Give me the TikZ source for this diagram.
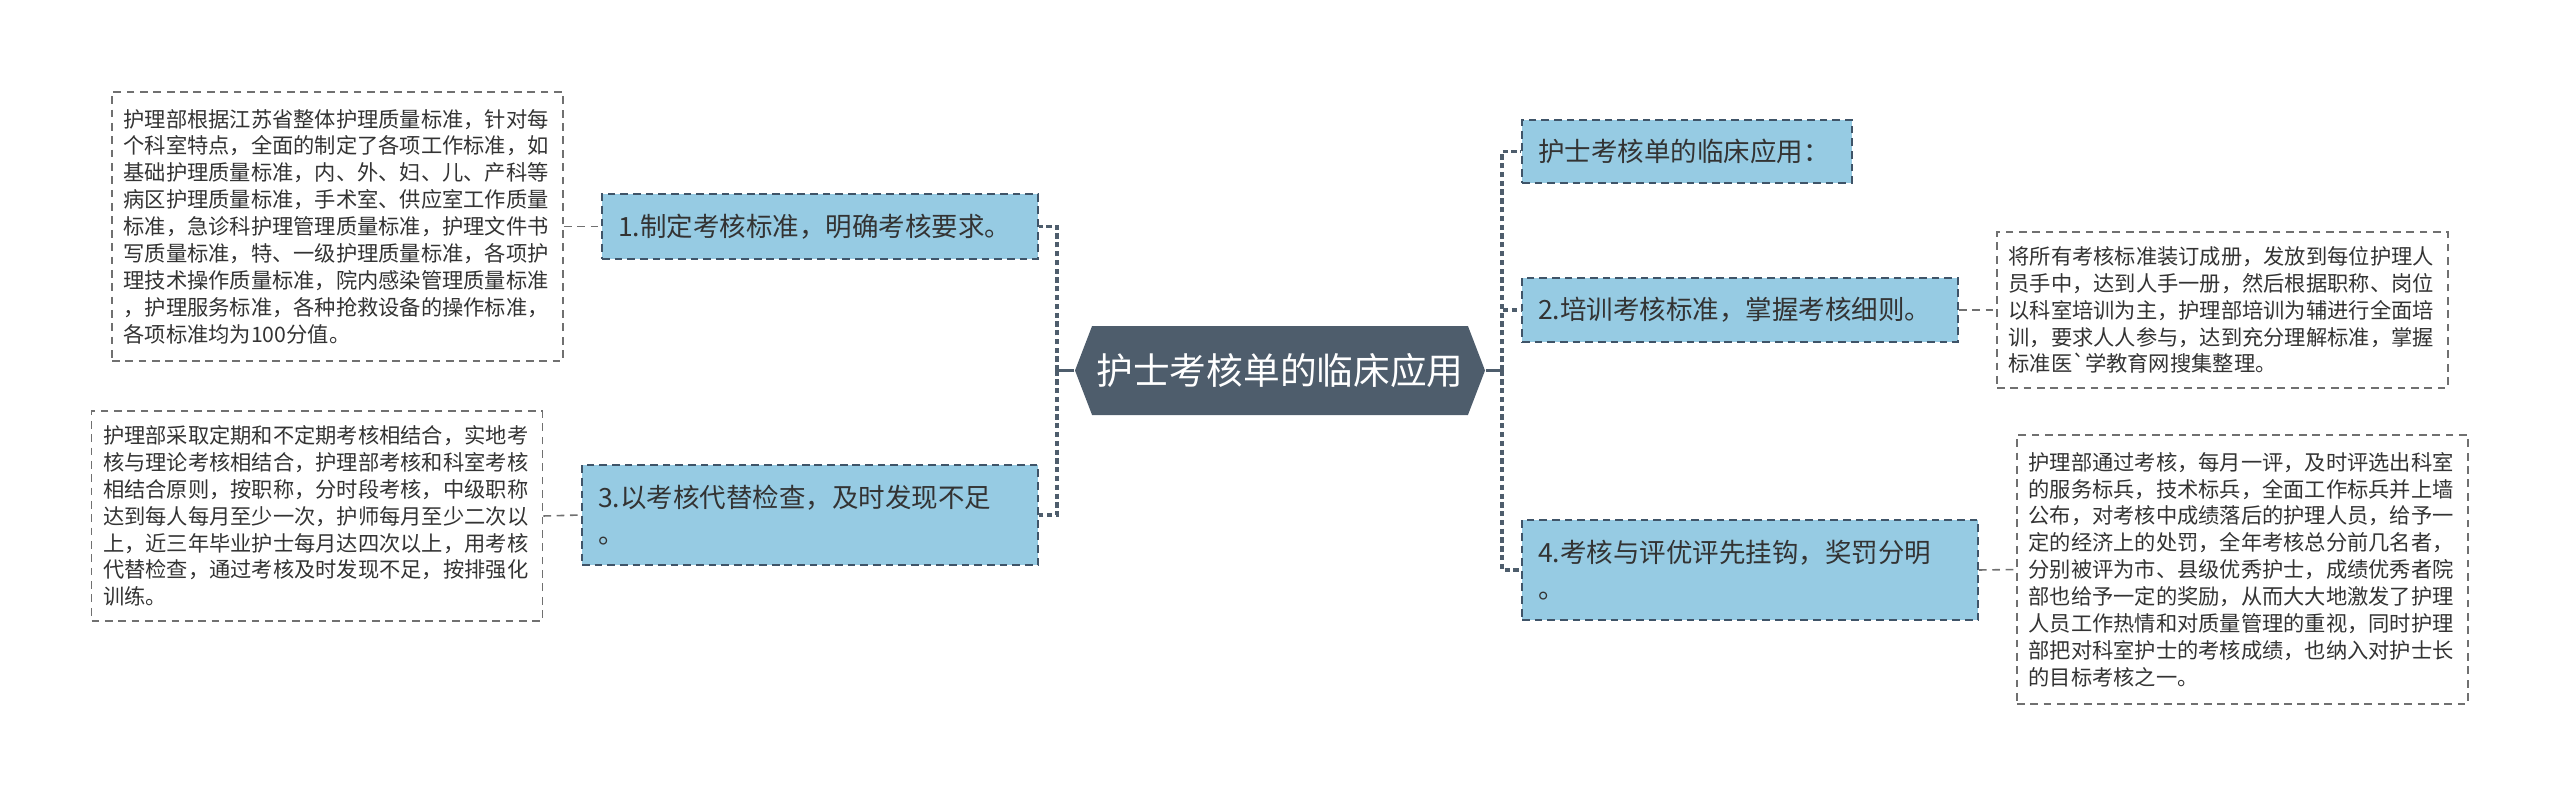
\documentclass[tikz,border=0pt]{standalone}
\usepackage{fontspec}
\newfontfamily\cjk{Noto Sans CJK SC}
\usetikzlibrary{shapes.symbols,positioning}
\definecolor{hubfill}{HTML}{4E5D6C}
\definecolor{leaffill}{HTML}{96CBE3}
\definecolor{leafline}{HTML}{3F5468}
\definecolor{notegray}{HTML}{707070}
\definecolor{inkgray}{HTML}{333333}

\begin{document}
\begin{tikzpicture}[
    hub/.style={
        signal,
        signal to=west and east,
        signal pointer angle=138,
        fill=hubfill,
        text=white,
        font=\cjk\fontsize{10.44pt}{12pt}\selectfont,
        minimum width=4.10cm,
        minimum height=0.89cm,
        inner sep=0pt,
    },
    branch/.style={
        rectangle,
        draw=leafline,
        fill=leaffill,
        line width=0.5pt,
        dash pattern=on 2.2pt off 1.4pt,
        text=inkgray,
        font=\cjk\fontsize{7.54pt}{10.24pt}\selectfont,
        text width=#1,
        align=left,
        inner xsep=0.16cm,
        inner ysep=0pt,
    },
    note/.style={
        rectangle,
        draw=notegray,
        line width=0.45pt,
        dash pattern=on 2.2pt off 1.6pt,
        text=inkgray,
        font=\cjk\fontsize{6.05pt}{7.65pt}\selectfont,
        text width=4.28cm,
        align=left,
        inner xsep=0.115cm,
        inner ysep=0pt,
    },
    stem/.style={
        draw=hubfill,
        line width=1pt,
    },
    trunk/.style={
        draw=hubfill,
        line width=1pt,
        dash pattern=on 1.5pt off 1pt,
    },
    twig/.style={
        draw=notegray,
        line width=0.45pt,
        dash pattern=on 2.2pt off 1.6pt,
    },
]
\useasboundingbox (0,0) rectangle (25.6,-7.97);

% === Centre ===
\node[hub] (hub) at (12.80,-3.705) {护士考核单的临床应用};
\coordinate (hl) at (10.57,-3.705);
\coordinate (hr) at (15.02,-3.705);

% === Left: standards ===
\node[branch=4.04cm, minimum height=0.65cm] (std) at (8.20,-2.265) {1.制定考核标准，明确考核要求。};
\node[note, minimum height=2.69cm] (stdnote) at (3.375,-2.265) {
    护理部根据江苏省整体护理质量标准，针对每\\
    个科室特点，全面的制定了各项工作标准，如\\
    基础护理质量标准，内、外、妇、儿、产科等\\
    病区护理质量标准，手术室、供应室工作质量\\
    标准，急诊科护理管理质量标准，护理文件书\\
    写质量标准，特、一级护理质量标准，各项护\\
    理技术操作质量标准，院内感染管理质量标准\\
    ，护理服务标准，各种抢救设备的操作标准，\\
    各项标准均为100分值。
};

% === Left: examination ===
\node[branch=4.24cm, minimum height=1.00cm] (exam) at (8.10,-5.15) {3.以考核代替检查，及时发现不足\\。};
\node[note, minimum height=2.10cm] (examnote) at (3.17,-5.16) {
    护理部采取定期和不定期考核相结合，实地考\\
    核与理论考核相结合，护理部考核和科室考核\\
    相结合原则，按职称，分时段考核，中级职称\\
    达到每人每月至少一次，护师每月至少二次以\\
    上，近三年毕业护士每月达四次以上，用考核\\
    代替检查，通过考核及时发现不足，按排强化\\
    训练。
};

% === Right: application ===
\node[branch=2.98cm, minimum height=0.63cm] (app) at (16.87,-1.515) {护士考核单的临床应用：};

% === Right: training ===
\node[branch=4.04cm, minimum height=0.64cm] (train) at (17.40,-3.10) {2.培训考核标准，掌握考核细则。};
\node[note, minimum height=1.56cm] (trainnote) at (22.225,-3.10) {
    将所有考核标准装订成册，发放到每位护理人\\
    员手中，达到人手一册，然后根据职称、岗位\\
    以科室培训为主，护理部培训为辅进行全面培\\
    训，要求人人参与，达到充分理解标准，掌握\\
    标准医`学教育网搜集整理。
};

% === Right: rewards ===
\node[branch=4.24cm, minimum height=1.00cm] (award) at (17.50,-5.70) {4.考核与评优评先挂钩，奖罚分明\\。};
\node[note, minimum height=2.69cm] (awardnote) at (22.425,-5.695) {
    护理部通过考核，每月一评，及时评选出科室\\
    的服务标兵，技术标兵，全面工作标兵并上墙\\
    公布，对考核中成绩落后的护理人员，给予一\\
    定的经济上的处罚，全年考核总分前几名者，\\
    分别被评为市、县级优秀护士，成绩优秀者院\\
    部也给予一定的奖励，从而大大地激发了护理\\
    人员工作热情和对质量管理的重视，同时护理\\
    部把对科室护士的考核成绩，也纳入对护士长\\
    的目标考核之一。
};

% === Connectors ===
\draw[stem] (hub.west) -- (hl);
\draw[stem] (hub.east) -- (hr);
\draw[trunk] (hl) |- (std.east);
\draw[trunk] (hl) |- (exam.east);
\draw[trunk] (hr) |- (app.west);
\draw[trunk] (hr) |- (train.west);
\draw[trunk] (hr) |- (award.west);
\draw[twig] (stdnote.east) -- (std.west);
\draw[twig] (examnote.east) -- (exam.west);
\draw[twig] (train.east) -- (trainnote.west);
\draw[twig] (award.east) -- (awardnote.west);

\end{tikzpicture}
\end{document}
